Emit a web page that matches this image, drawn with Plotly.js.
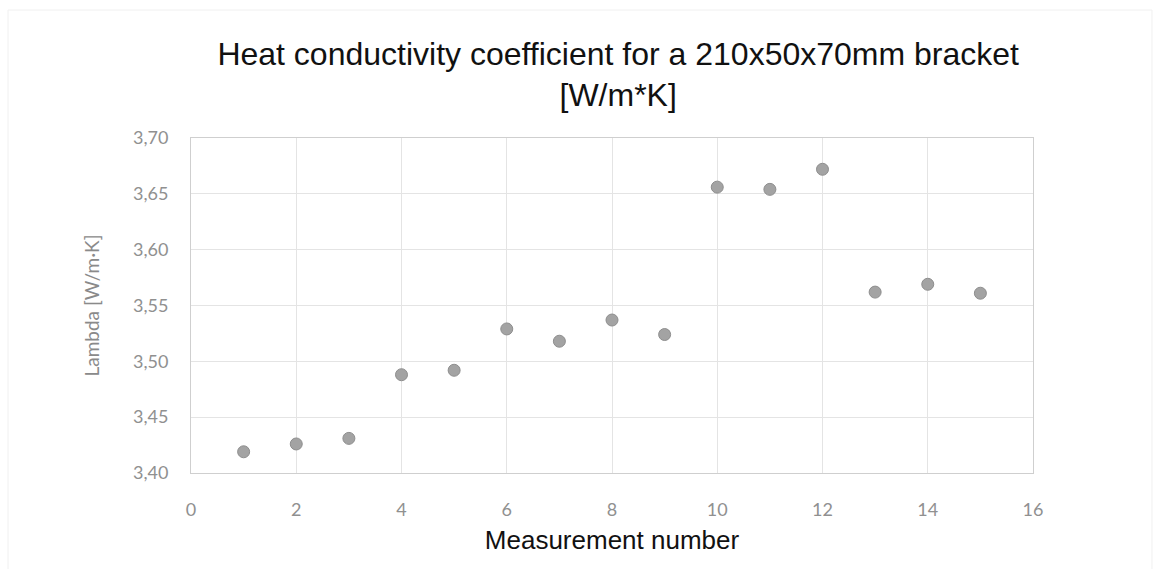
<!DOCTYPE html>
<html>
<head>
<meta charset="utf-8">
<script src="https://cdn.plot.ly/plotly-3.0.1.min.js"></script>
<style>html,body{margin:0;padding:0;background:#fff;}#chart{width:1162px;height:569px;}</style>
</head>
<body>
<div id="chart"></div>
<script>
const measurement = [1, 2, 3, 4, 5, 6, 7, 8, 9, 10, 11, 12, 13, 14, 15];
const lambda = [3.419, 3.426, 3.431, 3.488, 3.492, 3.529, 3.518, 3.537, 3.524, 3.656, 3.654, 3.672, 3.562, 3.569, 3.561];
const xTicks = [0, 2, 4, 6, 8, 10, 12, 14, 16];
const yTicks = [3.40, 3.45, 3.50, 3.55, 3.60, 3.65, 3.70];

const tickFont = {family: 'Lato, "Open Sans", sans-serif', size: 18, color: '#909090'};

const trace = {
  x: measurement,
  y: lambda,
  type: 'scatter',
  mode: 'markers',
  marker: {size: 12, color: '#a3a3a3', line: {color: '#8e8e8e', width: 1}},
  showlegend: false
};

const layout = {
  width: 1162,
  height: 569,
  paper_bgcolor: '#ffffff',
  plot_bgcolor: '#ffffff',
  separators: ', ',
  margin: {l: 191, r: 129, t: 138, b: 96},
  title: {
    text: 'Heat conductivity coefficient for a 210x50x70mm bracket<br>[W/m*K]',
    font: {family: '"Liberation Sans", Arial, sans-serif', size: 32, color: '#111111'},
    x: 0.532, xanchor: 'center',
    yref: 'container', y: 0.886, yanchor: 'middle'
  },
  xaxis: {
    range: [0, 16],
    tickvals: xTicks,
    ticktext: xTicks.map(String),
    showgrid: true,
    gridcolor: '#e4e4e4',
    gridwidth: 1,
    zeroline: false,
    showline: true,
    linecolor: '#cfcfcf',
    linewidth: 1,
    mirror: true,
    ticks: '',
    ticklabelstandoff: 20,
    tickfont: tickFont,
    title: {
      text: 'Measurement number',
      font: {family: '"Liberation Sans", Arial, sans-serif', size: 26, color: '#111111'},
      standoff: 12
    },
    automargin: false
  },
  yaxis: {
    range: [3.40, 3.70],
    tickvals: yTicks,
    tickformat: '.2f',
    showgrid: true,
    gridcolor: '#e4e4e4',
    gridwidth: 1,
    zeroline: false,
    showline: true,
    linecolor: '#cfcfcf',
    linewidth: 1,
    mirror: true,
    ticks: '',
    ticklabelstandoff: 18,
    tickfont: tickFont,
    title: {
      text: 'Lambda [W/m·K]',
      font: {family: 'Lato, "Open Sans", sans-serif', size: 19, color: '#8a8a8a'},
      standoff: 28
    },
    automargin: false
  },
  shapes: [{
    type: 'rect', xref: 'paper', yref: 'paper',
    x0: -0.2173, x1: 1.1413, y0: -0.29, y1: 1.382,
    line: {color: '#f0f0f0', width: 1}
  }]
};

Plotly.newPlot('chart', [trace], layout, {displayModeBar: false, staticPlot: true});
</script>
</body>
</html>
